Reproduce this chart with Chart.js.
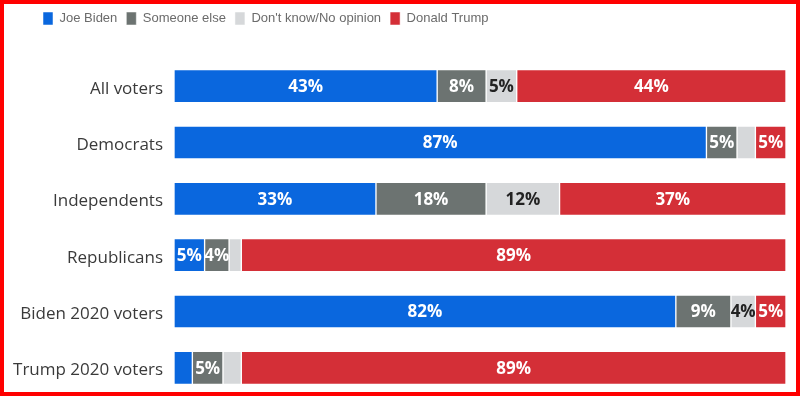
<!DOCTYPE html>
<html>
<head>
<meta charset="utf-8">
<script src="https://cdn.jsdelivr.net/npm/chart.js@4.4.0/dist/chart.umd.min.js"></script>
<style>
  html, body { margin: 0; padding: 0; background: #fff; }
  #wrap { position: relative; width: 800px; height: 396px; overflow: hidden; }
  #frame { position: absolute; inset: 0; border: 4px solid #ff0000; box-sizing: border-box; pointer-events: none; }
</style>
</head>
<body>
<div id="wrap">
  <canvas id="chart" width="800" height="396"></canvas>
  <div id="frame"></div>
</div>
<script>
// Poll results, % of each group
const groups = ['All voters', 'Democrats', 'Independents', 'Republicans', 'Biden 2020 voters', 'Trump 2020 voters'];
const biden = [43, 87, 33, 5, 82, 3];
const someoneElse = [8, 5, 18, 4, 9, 5];
const dontKnow = [5, 3, 12, 2, 4, 3];
const trump = [44, 5, 37, 89, 5, 89];

// Draw "xx%" in the middle of each segment (small ones are skipped)
const barLabels = {
    id: 'barLabels',
    afterDatasetsDraw(chart) {
        const ctx = chart.ctx;
        ctx.save();
        ctx.font = "bold 17px 'Open Sans', sans-serif";
        ctx.textAlign = 'center';
        ctx.textBaseline = 'middle';
        chart.data.datasets.forEach((ds, i) => {
            chart.getDatasetMeta(i).data.forEach((bar, j) => {
                const v = ds.data[j];
                if (v < 4) return;
                ctx.fillStyle = ds.labelColor;
                ctx.fillText(v + '%', (bar.x + bar.base) / 2, bar.y + 1);
            });
        });
        ctx.restore();
    }
};

// Room between the legend and the bars, and push the legend right a bit
const legendSpacing = {
    id: 'legendSpacing',
    beforeInit(chart) {
        const fit = chart.legend.fit;
        chart.legend.fit = function () {
            fit.call(this);
            this.height = 55;
        };
    },
    afterLayout(chart) {
        chart.legend.left += 30;
    }
};

new Chart(document.getElementById('chart'), {
    type: 'bar',
    data: {
        labels: groups,
        datasets: [
            { label: 'Joe Biden', data: biden, backgroundColor: '#0a67de', labelColor: '#fff' },
            { label: 'Someone else', data: someoneElse, backgroundColor: '#6c7371', labelColor: '#fff' },
            { label: "Don't know/No opinion", data: dontKnow, backgroundColor: '#d6d8da', labelColor: '#222' },
            { label: 'Donald Trump', data: trump, backgroundColor: '#d42f37', labelColor: '#fff' }
        ]
    },
    options: {
        indexAxis: 'y',
        responsive: false,
        animation: false,
        layout: {
            padding: { top: 3, left: 4, right: 14, bottom: 0 }
        },
        datasets: {
            bar: {
                barThickness: 33,
                borderWidth: 1,
                borderColor: 'rgba(255, 255, 255, 0.5)',
                borderSkipped: false
            }
        },
        scales: {
            x: {
                stacked: true,
                min: 0,
                max: 100,
                display: false
            },
            y: {
                stacked: true,
                grid: { display: false, drawTicks: false },
                border: { display: false },
                ticks: {
                    color: '#3a3a3a',
                    padding: 11,
                    labelOffset: 2.5,
                    font: { family: "'Open Sans', sans-serif", size: 17 }
                },
                afterFit(scale) {
                    scale.width = 170;
                    scale.paddingTop = 0;
                    scale.paddingBottom = 0;
                }
            }
        },
        plugins: {
            legend: {
                align: 'start',
                labels: {
                    boxWidth: 10,
                    boxHeight: 13,
                    padding: 9,
                    color: '#6b6b6b',
                    font: { family: "'Liberation Sans', Arial, sans-serif", size: 13 }
                }
            },
            tooltip: { enabled: false }
        }
    },
    plugins: [barLabels, legendSpacing]
});
</script>
</body>
</html>
